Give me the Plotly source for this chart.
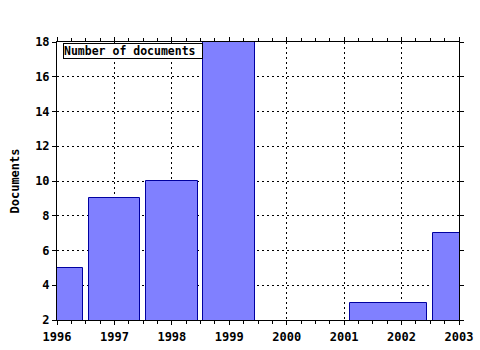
import plotly.graph_objects as go

years = [1996, 1997, 1998, 1999, 2002, 2003]
documents = [5, 9, 10, 18, 3, 7]
bar_offsets = [-0.45, -0.45, -0.45, -0.45, -0.9, -0.45]
bar_widths = [0.9, 0.9, 0.9, 0.9, 1.35, 0.9]
x_ticks = [1996, 1997, 1998, 1999, 2000, 2001, 2002, 2003]
y_ticks = [2, 4, 6, 8, 10, 12, 14, 16, 18]
series_name = "Number of documents"
y_title = "Documents"

FONT = "DejaVu Sans Mono"

fig = go.Figure()
fig.add_trace(go.Bar(
    x=years, y=documents, offset=bar_offsets, width=bar_widths,
    marker=dict(color="#8080ff", line=dict(color="#0000a0", width=1)),
    name=series_name, showlegend=False,
))

fig.add_annotation(
    xref="paper", yref="paper", x=0.015, y=0.996, xanchor="left", yanchor="top",
    text=series_name + "\u00a0", showarrow=False,
    font=dict(family=FONT, size=11.5, color="black", weight="bold"),
    bordercolor="black", borderwidth=1, borderpad=0, bgcolor="white",
    align="left",
)

axis_common = dict(
    showline=True, linecolor="black", linewidth=1, mirror="allticks",
    ticks="outside", ticklen=4, tickcolor="black",
    showgrid=True, gridcolor="black", griddash="2px,3px", gridwidth=1,
    zeroline=False, automargin=False,
    tickfont=dict(family=FONT, size=12, color="black", weight="bold"),
)

fig.update_layout(
    width=480, height=350,
    margin=dict(l=57, r=21, t=42, b=30),
    paper_bgcolor="white", plot_bgcolor="white",
    xaxis=dict(range=[1996, 2003], tickvals=x_ticks, ticklabelstandoff=2,
               minor=dict(dtick=0.25, ticks="outside", ticklen=3, tickcolor="black", showgrid=False),
               **axis_common),
    yaxis=dict(range=[2, 18], tickvals=y_ticks,
               title=dict(text=y_title, font=dict(family=FONT, size=12, color="black", weight="bold"), standoff=12),
               **axis_common),
    bargap=0,
)

fig.write_html("out.html")
